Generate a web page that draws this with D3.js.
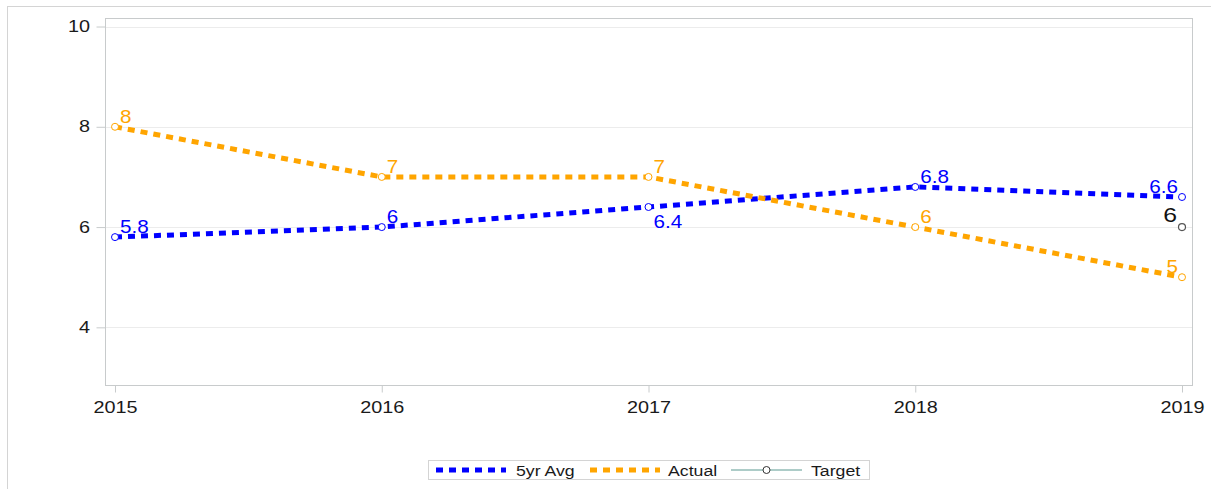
<!DOCTYPE html>
<html>
<head>
<meta charset="utf-8">
<script src="https://cdn.jsdelivr.net/npm/d3@7"></script>
<style>
  body { margin: 0; background: #fff; }
  svg { font-family: "Liberation Sans", Arial, sans-serif; }
</style>
</head>
<body>
<div id="chart"></div>
<script>
var years = [2015, 2016, 2017, 2018, 2019];
var avg5 = [5.8, 6, 6.4, 6.8, 6.6];
var actual = [8, 7, 7, 6, 5];
var targetYears = [2019];
var target = [6];
var yTicks = [4, 6, 8, 10];

// label placement per point: [dx, dy, anchor]
var avgLabelPos = [[5, -4, "start"], [5, -4, "start"], [5, 21, "start"], [5, -4, "start"], [-4, -4, "end"]];
var actLabelPos = [[5, -4, "start"], [5, -4, "start"], [5, -4, "start"], [5, -4, "start"], [-4, -4, "end"]];

var width = 1211, height = 489;
var margin = { left: 105, top: 18, right: 19, bottom: 104 };
var stretch = 1.18;     // the source image is a bit wider than tall
var tickStretch = 1.24;

var svg = d3.select("#chart").append("svg")
    .attr("width", width)
    .attr("height", height);

// puts a text at (px,py), stretched horizontally
function stretchedText(g, px, py) {
    return g.append("text")
        .attr("transform", "translate(" + px + "," + py + ") scale(" + stretch + ",1)");
}

// outer frame (only top/left visible)
svg.append("line").attr("x1", 7).attr("x2", width).attr("y1", 6.5).attr("y2", 6.5)
    .attr("stroke", "#d4d4d4");
svg.append("line").attr("x1", 7.5).attr("x2", 7.5).attr("y1", 6).attr("y2", height)
    .attr("stroke", "#d4d4d4");

var x = d3.scaleLinear()
    .domain([2015, 2019])
    .range([115, 1182]);

var y = d3.scaleLinear()
    .domain([2.85, 10.17])
    .range([385, 18]);

var plotL = margin.left, plotR = width - margin.right, plotT = margin.top, plotB = 385;

// gridlines
svg.append("g").selectAll("line")
    .data(yTicks).enter().append("line")
    .attr("x1", plotL).attr("x2", plotR)
    .attr("y1", function (d) { return Math.round(y(d)) + 0.5; })
    .attr("y2", function (d) { return Math.round(y(d)) + 0.5; })
    .attr("stroke", "#ececec");

// plot frame
svg.append("rect")
    .attr("x", plotL + 0.5).attr("y", plotT + 0.5)
    .attr("width", plotR - plotL).attr("height", plotB - plotT)
    .attr("fill", "none").attr("stroke", "#c8cbcc");

// y axis
var yAxis = d3.axisLeft(y).tickValues(yTicks).tickSize(9).tickPadding(5).tickFormat(d3.format("d"));
var gy = svg.append("g").attr("transform", "translate(" + (plotL + 0.5) + ",0)").call(yAxis);
gy.select(".domain").remove();
gy.selectAll("line").attr("stroke", "#c8cbcc");
gy.selectAll("text")
    .attr("x", null)
    .attr("transform", "translate(-15.5,0) scale(" + tickStretch + ",1)")
    .attr("fill", "#1a1a1a").attr("font-size", "16px");

// x axis
var xAxis = d3.axisBottom(x).tickValues(years).tickSize(7).tickPadding(9).tickFormat(d3.format("d"));
var gx = svg.append("g").attr("transform", "translate(0," + (plotB + 0.5) + ")").call(xAxis);
gx.select(".domain").remove();
gx.selectAll("line").attr("stroke", "#c8cbcc");
gx.selectAll("text")
    .attr("transform", "scale(" + tickStretch + ",1)")
    .attr("fill", "#1a1a1a").attr("font-size", "16px");

var line = d3.line()
    .x(function (d) { return x(d[0]); })
    .y(function (d) { return y(d[1]); });

function drawSeries(vals, color, labelPos) {
    var pts = years.map(function (yr, i) { return [yr, vals[i]]; });
    svg.append("path")
        .datum(pts)
        .attr("d", line)
        .attr("fill", "none")
        .attr("stroke", color)
        .attr("stroke-width", 5)
        .attr("stroke-dasharray", "7,6");
    svg.append("g").selectAll("circle")
        .data(pts).enter().append("circle")
        .attr("cx", function (d) { return x(d[0]); })
        .attr("cy", function (d) { return y(d[1]); })
        .attr("r", 3.5)
        .attr("fill", "#fff")
        .attr("stroke", color)
        .attr("stroke-width", 1);
    var lg = svg.append("g");
    pts.forEach(function (d, i) {
        stretchedText(lg, x(d[0]) + labelPos[i][0], y(d[1]) + labelPos[i][1])
            .attr("text-anchor", labelPos[i][2])
            .attr("fill", color)
            .attr("font-size", "17.5px")
            .text(d[1]);
    });
}

drawSeries(avg5, "#0000ff", avgLabelPos);
drawSeries(actual, "#ffa500", actLabelPos);

// target
var tg = svg.append("g");
tg.selectAll("circle")
    .data(targetYears).enter().append("circle")
    .attr("cx", function (d) { return x(d); })
    .attr("cy", function (d, i) { return y(target[i]); })
    .attr("r", 3.5)
    .attr("fill", "#fff")
    .attr("stroke", "#555")
    .attr("stroke-width", 1.2);
targetYears.forEach(function (yr, i) {
    stretchedText(tg, x(yr) - 5, y(target[i]) - 5)
        .attr("text-anchor", "end")
        .attr("fill", "#111")
        .attr("font-size", "21px")
        .text(target[i]);
});

// legend
var legend = svg.append("g");
legend.append("rect")
    .attr("x", 428.5).attr("y", 460.5)
    .attr("width", 441).attr("height", 19)
    .attr("fill", "#fff").attr("stroke", "#d4d4d4");

var legendItems = [
    { name: "5yr Avg", color: "#0000ff", x1: 436, x2: 506, tx: 516, dashed: true },
    { name: "Actual", color: "#ffa500", x1: 590, x2: 660, tx: 668, dashed: true },
    { name: "Target", color: "#5d9a92", x1: 731, x2: 802, tx: 811, dashed: false }
];
legendItems.forEach(function (it) {
    legend.append("line")
        .attr("x1", it.x1).attr("x2", it.x2)
        .attr("y1", 470).attr("y2", 470)
        .attr("stroke", it.color)
        .attr("stroke-width", it.dashed ? 5 : 1.2)
        .attr("stroke-dasharray", it.dashed ? "7,6" : null);
    if (!it.dashed) {
        legend.append("circle")
            .attr("cx", (it.x1 + it.x2) / 2).attr("cy", 470)
            .attr("r", 3.5).attr("fill", "#fff").attr("stroke", "#333");
    }
    stretchedText(legend, it.tx, 475.5)
        .attr("fill", "#1a1a1a")
        .attr("font-size", "15px")
        .text(it.name);
});
</script>
</body>
</html>
